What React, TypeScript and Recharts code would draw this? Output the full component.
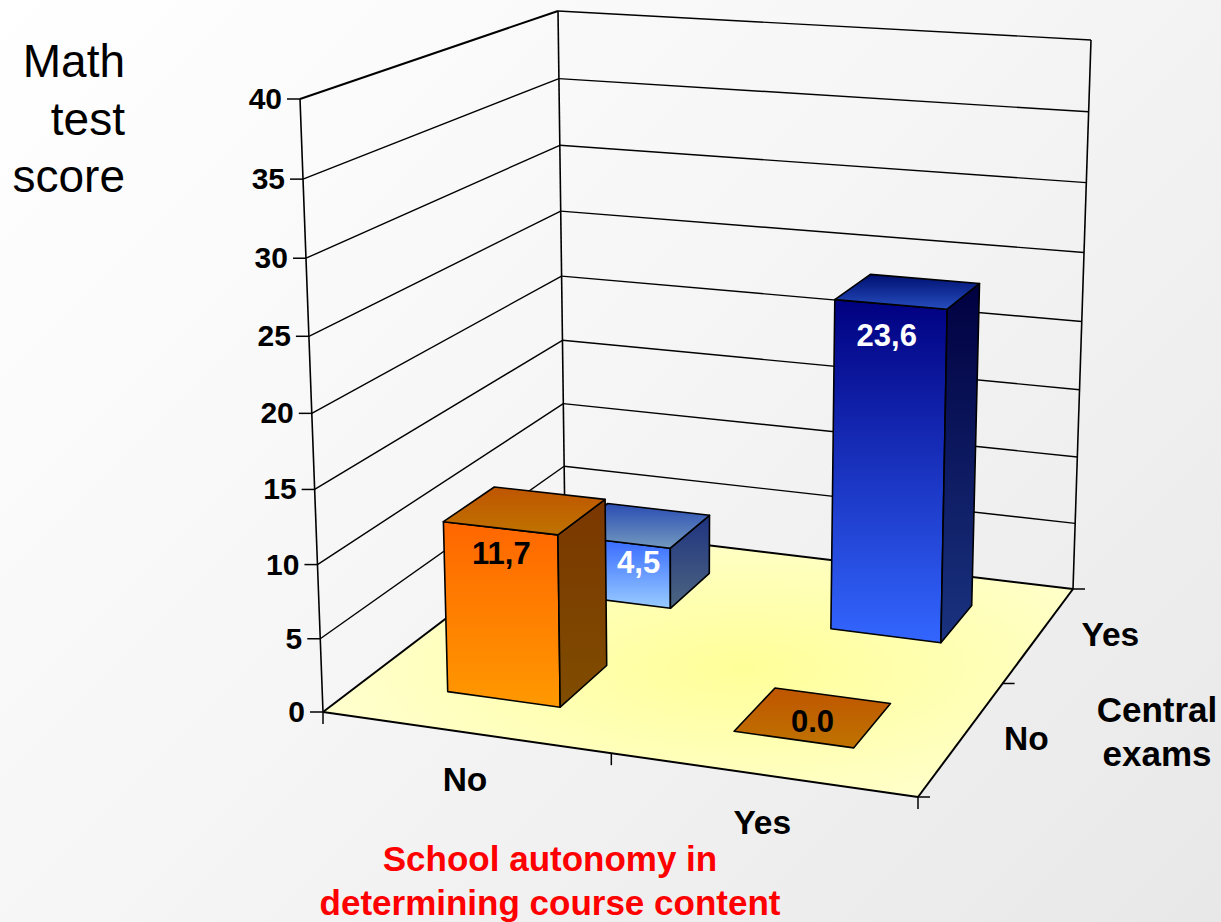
import React from 'react';
import { BarChart, Bar, XAxis, YAxis } from 'recharts';

// ---- data ----
const autonomyCategories = ['No', 'Yes'];
const centralCategories = ['No', 'Yes'];
const centralYesScores = [4.5, 23.6];
const centralNoScores = [11.7, 0];
const centralYesLabels = ['4,5', '23,6'];
const centralNoLabels = ['11,7', '0.0'];
const yTicks = [0, 5, 10, 15, 20, 25, 30, 35, 40];
const titleLines = ['Math', 'test', 'score'];
const xTitleLines = ['School autonomy in', 'determining course content'];
const zTitleLines = ['Central', 'exams'];

const rows = autonomyCategories.map((autonomy, i) => ({
  autonomy,
  yes: centralYesScores[i],
  no: centralNoScores[i],
  yesLabel: centralYesLabels[i],
  noLabel: centralNoLabels[i],
}));

// ---- layout / projection ----
const W = 1221;
const H = 922;
const PLOT = { left: 100, top: 100, width: 1000, height: 600 };
const FONT = '"Liberation Sans", Arial, sans-serif';
type Pt = [number, number];

// corners of the 3D box: (u,v) = (0,0), (1,0), (1,1), (0,1)
const floorCorners: Pt[] = [[323, 712], [918, 797], [1073, 589], [565, 528]];
const ceilCorners: Pt[] = [[300, 99], [923, 137], [1091, 40], [558, 11]];
const PERSP = -0.05;

function homography(c: Pt[]) {
  const [A, B, C, D] = c;
  const dx1 = B[0] - C[0], dy1 = B[1] - C[1];
  const dx2 = D[0] - C[0], dy2 = D[1] - C[1];
  const sx = A[0] - B[0] + C[0] - D[0], sy = A[1] - B[1] + C[1] - D[1];
  const den = dx1 * dy2 - dx2 * dy1;
  const g = (sx * dy2 - dx2 * sy) / den;
  const h = (dx1 * sy - sx * dy1) / den;
  const a = B[0] - A[0] + g * B[0], b = D[0] - A[0] + h * D[0];
  const d = B[1] - A[1] + g * B[1], e = D[1] - A[1] + h * D[1];
  return (u: number, v: number): Pt => {
    const w = g * u + h * v + 1;
    return [(a * u + b * v + A[0]) / w, (d * u + e * v + A[1]) / w];
  };
}
const floorH = homography(floorCorners);
const ceilH = homography(ceilCorners);

function project(u: number, v: number, t: number): Pt {
  const f = floorH(u, v);
  const c = ceilH(u, v);
  const s = (t * (1 + PERSP)) / (1 + PERSP * t);
  return [f[0] + (c[0] - f[0]) * s, f[1] + (c[1] - f[1]) * s];
}
const pts = (list: Pt[]) => list.map((p) => `${p[0].toFixed(1)},${p[1].toFixed(1)}`).join(' ');

const Seg = ({ a, b, w = 1.5 }: { a: Pt; b: Pt; w?: number }) => (
  <line x1={a[0]} y1={a[1]} x2={b[0]} y2={b[1]} stroke="#000" strokeWidth={w} />
);

const grad = (id: string, top: string, bottom: string) => (
  <linearGradient id={id} x1="0" y1="0" x2="0" y2="1" key={id}>
    <stop offset="0" stopColor={top} />
    <stop offset="1" stopColor={bottom} />
  </linearGradient>
);

const Backdrop = () => {
  const tMax = 1;
  return (
    <g>
      <defs>
        <radialGradient id="floorFill" cx="0.56" cy="0.52" r="0.55">
          <stop offset="0" stopColor="#ffff99" />
          <stop offset="1" stopColor="#ffffcc" />
        </radialGradient>
        {grad('orFront', '#ff6600', '#ff9900')}
        {grad('orSide', '#7a3700', '#804d00')}
        {grad('orTop', '#bf5500', '#bf7300')}
        {grad('ltFront', '#3366ff', '#99ccff')}
        {grad('ltSide', '#1f3380', '#4d6680')}
        {grad('ltTop', '#2a4db3', '#7399bf')}
        {grad('dkFront', '#000080', '#3366ff')}
        {grad('dkSide', '#000040', '#1a3380')}
        {grad('dkTop', '#001070', '#264dbf')}
      </defs>
      <polygon points={pts(floorCorners)} fill="url(#floorFill)" stroke="none" />
      {yTicks.slice(1).map((tick) => {
        const t = tick / yTicks[yTicks.length - 1];
        return (
          <g key={tick}>
            <Seg a={project(0, 0, t)} b={project(0, 1, t)} w={t === tMax ? 2 : 1.4} />
            <Seg a={project(0, 1, t)} b={project(1, 1, t)} w={1.4} />
          </g>
        );
      })}
      <Seg a={project(0, 0, 0)} b={project(0, 0, 1)} w={1.6} />
      <Seg a={project(0, 1, 0)} b={project(0, 1, 1)} w={1.6} />
      <Seg a={project(1, 1, 0)} b={project(1, 1, 1)} w={1.6} />
      {floorCorners.map((c, i) => (
        <Seg key={i} a={c} b={floorCorners[(i + 1) % 4]} w={2} />
      ))}
      {[0, 0.5, 1].map((u) => {
        const p = project(u, 0, 0);
        return <Seg key={u} a={p} b={[p[0], p[1] + 12]} />;
      })}
      {[0, 0.5, 1].map((v) => {
        const p = project(1, v, 0);
        return <Seg key={v} a={p} b={[p[0] + 12, p[1]]} />;
      })}
      {centralCategories.map((c, i) => {
        const p = project(1, 0.25 + i * 0.5, 0);
        return (
          <text key={c + i} x={p[0] + (i ? 71 : 64)} y={p[1] + 12} textAnchor="middle" fontFamily={FONT} fontWeight="bold" fontSize={33.5} fill="#000">
            {c}
          </text>
        );
      })}
      {titleLines.map((s, i) => (
        <text key={s} x={125} y={77 + i * 57.5} textAnchor="end" fontFamily={FONT} fontSize={46} fill="#000">
          {s}
        </text>
      ))}
      {xTitleLines.map((s, i) => (
        <text key={s} x={550} y={871 + i * 43.5} textAnchor="middle" fontFamily={FONT} fontWeight="bold" fontSize={35} fill="#ff0000">
          {s}
        </text>
      ))}
      {zTitleLines.map((s, i) => (
        <text key={s} x={1157} y={722 + i * 44} textAnchor="middle" fontFamily={FONT} fontWeight="bold" fontSize={35} fill="#000">
          {s}
        </text>
      ))}
    </g>
  );
};

const YTick = ({ payload }: any) => {
  const t = payload.value / yTicks[yTicks.length - 1];
  const p = project(0, 0, t);
  return (
    <g>
      <Seg a={[p[0] - 13, p[1]]} b={p} />
      <text x={p[0] - 18} y={p[1] + 10} textAnchor="end" fontFamily={FONT} fontWeight="bold" fontSize={30} fill="#000">
        {payload.value}
      </text>
    </g>
  );
};

const XTick = ({ x, payload }: any) => {
  const p = project((x - PLOT.left) / PLOT.width, 0, 0);
  return (
    <text x={p[0]} y={p[1] + 59} textAnchor="middle" fontFamily={FONT} fontWeight="bold" fontSize={33.5} fill="#000">
      {payload.value}
    </text>
  );
};

// Reads the bar's slot and height from the library's scales and extrudes it in the 3D box.
const bar3D = (v0: number, v1: number, keyName: 'yesLabel' | 'noLabel', paints: string[], inks: string[], nudges: Pt[]) => (props: any) => {
  const { x, width, height, payload, index } = props;
  const u0 = (x - PLOT.left) / PLOT.width;
  const u1 = (x + width - PLOT.left) / PLOT.width;
  const t = height / PLOT.height;
  const paint = paints[index];
  const topFace = [project(u0, v0, t), project(u1, v0, t), project(u1, v1, t), project(u0, v1, t)];
  const front = [project(u0, v0, 0), project(u1, v0, 0), project(u1, v0, t), project(u0, v0, t)];
  const side = [project(u1, v0, 0), project(u1, v1, 0), project(u1, v1, t), project(u1, v0, t)];
  const a = project((u0 + u1) / 2, v0, t);
  const [nx, ny] = nudges[index];
  const sw = 1.6;
  return (
    <g>
      {t > 0 && <polygon points={pts(front)} fill={`url(#${paint}Front)`} stroke="#000" strokeWidth={sw} strokeLinejoin="round" />}
      {t > 0 && <polygon points={pts(side)} fill={`url(#${paint}Side)`} stroke="#000" strokeWidth={sw} strokeLinejoin="round" />}
      <polygon points={pts(topFace)} fill={t > 0 ? `url(#${paint}Top)` : 'url(#orTop)'} stroke="#000" strokeWidth={sw} strokeLinejoin="round" />
      <text x={a[0] + nx} y={a[1] + ny} textAnchor="middle" fontFamily={FONT} fontWeight="bold" fontSize={31} fill={inks[index]}>
        {payload[keyName]}
      </text>
    </g>
  );
};

const yesShape = bar3D(0.65, 0.85, 'yesLabel', ['lt', 'dk'], ['#fff', '#fff'], [[21, 31], [-4, 42]]);
const noShape = bar3D(0.15, 0.35, 'noLabel', ['or', 'or'], ['#000', '#000'], [[1, 36], [19, -8]]);

export default function App() {
  return (
    <div
      style={{
        position: 'absolute',
        left: 0,
        top: 0,
        width: W,
        height: H,
        overflow: 'hidden',
        background: 'linear-gradient(135deg, #ffffff 0%, #f6f6f6 45%, #e8e8e8 100%)',
      }}
    >
      <BarChart
        width={W}
        height={H}
        data={rows}
        barSize={200}
        barGap={-200}
        margin={{ left: PLOT.left - 1, top: PLOT.top, right: W - PLOT.left - PLOT.width, bottom: H - PLOT.top - PLOT.height - 1 }}
      >
        <Backdrop />
        <XAxis dataKey="autonomy" height={1} axisLine={false} tickLine={false} tick={<XTick />} interval={0} />
        <YAxis type="number" domain={[0, 40]} ticks={yTicks} width={1} axisLine={false} tickLine={false} tick={<YTick />} interval={0} />
        <Bar dataKey="yes" shape={yesShape} isAnimationActive={false} />
        <Bar dataKey="no" shape={noShape} isAnimationActive={false} />
      </BarChart>
    </div>
  );
}
